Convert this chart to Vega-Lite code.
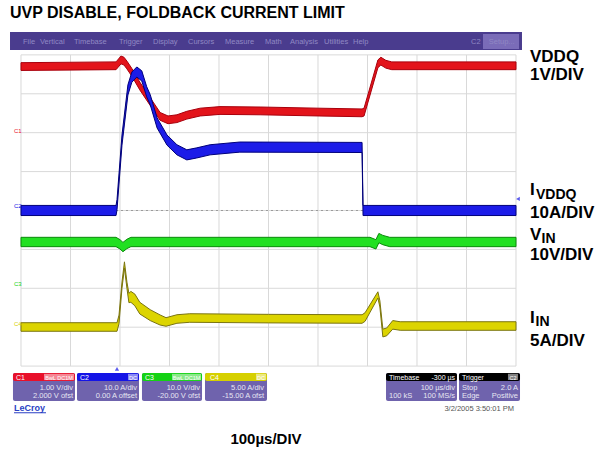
{
  "$schema": "https://vega.github.io/schema/vega-lite/v6.json",
  "width": 615,
  "height": 451,
  "padding": 0,
  "autosize": {"type": "fit", "contains": "padding"},
  "background": "white",
  "config": {"view": {"stroke": null}, "text": {"font": "Liberation Sans"}},
  "encoding": {
    "x": {"field": "t", "type": "quantitative", "scale": {"domain": [-42.42, 1200], "nice": false, "zero": false}, "axis": null},
    "y": {"field": "d", "type": "quantitative", "scale": {"domain": [-6.183, 5.411], "nice": false, "zero": false}, "axis": null}
  },
  "layer": [
    {
      "data": {"values": [{"t": -22.2, "t2": 1012.1, "d": 4.589, "d2": 4.126}]},
      "mark": {"type": "rect", "color": "#4a3c8e"},
      "encoding": {"x2": {"field": "t2"}, "y2": {"field": "d2"}}
    },
    {
      "data": {"values": [{"t": 933.3, "t2": 1006.1, "d": 4.537, "d2": 4.152}]},
      "mark": {"type": "rect", "color": "#7a6cb8"},
      "encoding": {"x2": {"field": "t2"}, "y2": {"field": "d2"}}
    },
    {
      "data": {"values": [
        {"t": 4.0, "d": 4.28, "label": "File"},
        {"t": 38.4, "d": 4.28, "label": "Vertical"},
        {"t": 107.1, "d": 4.28, "label": "Timebase"},
        {"t": 198.0, "d": 4.28, "label": "Trigger"},
        {"t": 266.7, "d": 4.28, "label": "Display"},
        {"t": 337.4, "d": 4.28, "label": "Cursors"},
        {"t": 412.1, "d": 4.28, "label": "Measure"},
        {"t": 492.9, "d": 4.28, "label": "Math"},
        {"t": 543.4, "d": 4.28, "label": "Analysis"},
        {"t": 612.1, "d": 4.28, "label": "Utilities"},
        {"t": 670.7, "d": 4.28, "label": "Help"},
        {"t": 909.1, "d": 4.28, "label": "C2"},
        {"t": 945.0, "d": 4.28, "label": "Setup..."}
      ]},
      "mark": {"type": "text", "align": "left", "baseline": "alphabetic", "fontSize": 7.5, "color": "#9088c4"},
      "encoding": {"text": {"field": "label"}}
    },
    {
      "data": {"values": [
        {"t": 0, "d": -4, "d2": 4}, {"t": 100, "d": -4, "d2": 4}, {"t": 200, "d": -4, "d2": 4},
        {"t": 300, "d": -4, "d2": 4}, {"t": 400, "d": -4, "d2": 4}, {"t": 500, "d": -4, "d2": 4},
        {"t": 600, "d": -4, "d2": 4}, {"t": 700, "d": -4, "d2": 4}, {"t": 800, "d": -4, "d2": 4},
        {"t": 900, "d": -4, "d2": 4}, {"t": 1000, "d": -4, "d2": 4}
      ]},
      "mark": {"type": "rule", "color": "#d9d9d9", "strokeWidth": 1},
      "encoding": {"y2": {"field": "d2"}}
    },
    {
      "data": {"values": [
        {"t": 0, "t2": 1000, "d": -4}, {"t": 0, "t2": 1000, "d": -3}, {"t": 0, "t2": 1000, "d": -2},
        {"t": 0, "t2": 1000, "d": -1}, {"t": 0, "t2": 1000, "d": 0}, {"t": 0, "t2": 1000, "d": 1},
        {"t": 0, "t2": 1000, "d": 2}, {"t": 0, "t2": 1000, "d": 3}, {"t": 0, "t2": 1000, "d": 4}
      ]},
      "mark": {"type": "rule", "color": "#d9d9d9", "strokeWidth": 1},
      "encoding": {"x2": {"field": "t2"}}
    },
    {
      "data": {"values": [{"t": 0, "t2": 1000, "d": 0}]},
      "mark": {"type": "rule", "color": "#9a9a9a", "strokeWidth": 1, "strokeDash": [2, 3]},
      "encoding": {"x2": {"field": "t2"}}
    },
    {
      "data": {"values": [
        {"t": 0, "d": 3.80, "d2": 3.60},
        {"t": 192, "d": 3.82, "d2": 3.62},
        {"t": 202, "d": 3.97, "d2": 3.77},
        {"t": 208, "d": 3.94, "d2": 3.74},
        {"t": 214, "d": 3.84, "d2": 3.64},
        {"t": 224, "d": 3.65, "d2": 3.45},
        {"t": 240, "d": 3.30, "d2": 3.10},
        {"t": 261, "d": 2.90, "d2": 2.70},
        {"t": 281, "d": 2.52, "d2": 2.32},
        {"t": 297, "d": 2.43, "d2": 2.23},
        {"t": 315, "d": 2.46, "d2": 2.26},
        {"t": 335, "d": 2.55, "d2": 2.35},
        {"t": 362, "d": 2.63, "d2": 2.43},
        {"t": 402, "d": 2.67, "d2": 2.47},
        {"t": 483, "d": 2.66, "d2": 2.46},
        {"t": 600, "d": 2.63, "d2": 2.43},
        {"t": 689, "d": 2.61, "d2": 2.41},
        {"t": 693, "d": 2.63, "d2": 2.43},
        {"t": 721, "d": 3.87, "d2": 3.67},
        {"t": 727, "d": 3.94, "d2": 3.74},
        {"t": 737, "d": 3.86, "d2": 3.66},
        {"t": 749, "d": 3.82, "d2": 3.62},
        {"t": 1000, "d": 3.82, "d2": 3.62}
      ]},
      "mark": {"type": "area", "color": "#e3141b", "stroke": "#a8000c", "strokeWidth": 1, "interpolate": "linear"},
      "encoding": {"y2": {"field": "d2"}}
    },
    {
      "data": {"values": [
        {"t": 0, "d": 0.13, "d2": -0.13},
        {"t": 192, "d": 0.13, "d2": -0.13},
        {"t": 194, "d": 0.28, "d2": 0.02},
        {"t": 204, "d": 1.94, "d2": 1.68},
        {"t": 216, "d": 3.23, "d2": 2.97},
        {"t": 224, "d": 3.56, "d2": 3.30},
        {"t": 234, "d": 3.69, "d2": 3.43},
        {"t": 244, "d": 3.59, "d2": 3.33},
        {"t": 254, "d": 3.18, "d2": 2.92},
        {"t": 261, "d": 2.98, "d2": 2.72},
        {"t": 275, "d": 2.38, "d2": 2.12},
        {"t": 295, "d": 1.94, "d2": 1.68},
        {"t": 315, "d": 1.69, "d2": 1.43},
        {"t": 335, "d": 1.56, "d2": 1.30},
        {"t": 355, "d": 1.61, "d2": 1.35},
        {"t": 382, "d": 1.69, "d2": 1.43},
        {"t": 442, "d": 1.76, "d2": 1.50},
        {"t": 689, "d": 1.75, "d2": 1.49},
        {"t": 691, "d": 0.13, "d2": -0.13},
        {"t": 1000, "d": 0.13, "d2": -0.13}
      ]},
      "mark": {"type": "area", "color": "#1c1ce8", "stroke": "#00007a", "strokeWidth": 1, "interpolate": "linear"},
      "encoding": {"y2": {"field": "d2"}}
    },
    {
      "data": {"values": [
        {"t": 0, "d": -0.69, "d2": -0.93},
        {"t": 192, "d": -0.69, "d2": -0.93},
        {"t": 200, "d": -0.75, "d2": -0.99},
        {"t": 206, "d": -0.82, "d2": -1.06},
        {"t": 214, "d": -0.74, "d2": -0.98},
        {"t": 222, "d": -0.69, "d2": -0.93},
        {"t": 705, "d": -0.69, "d2": -0.93},
        {"t": 717, "d": -0.75, "d2": -0.99},
        {"t": 723, "d": -0.59, "d2": -0.83},
        {"t": 731, "d": -0.64, "d2": -0.88},
        {"t": 745, "d": -0.69, "d2": -0.93},
        {"t": 1000, "d": -0.69, "d2": -0.93}
      ]},
      "mark": {"type": "area", "color": "#22e022", "stroke": "#0a8a0a", "strokeWidth": 1, "interpolate": "linear"},
      "encoding": {"y2": {"field": "d2"}}
    },
    {
      "data": {"values": [
        {"t": 0, "d": -2.885, "d2": -3.105},
        {"t": 194, "d": -2.885, "d2": -3.105},
        {"t": 198, "d": -2.69, "d2": -2.91},
        {"t": 204, "d": -1.84, "d2": -2.00},
        {"t": 209, "d": -1.32, "d2": -1.48},
        {"t": 214, "d": -1.84, "d2": -2.00},
        {"t": 218, "d": -2.13, "d2": -2.37},
        {"t": 222, "d": -2.08, "d2": -2.36},
        {"t": 230, "d": -2.15, "d2": -2.45},
        {"t": 240, "d": -2.36, "d2": -2.66},
        {"t": 261, "d": -2.55, "d2": -2.83},
        {"t": 281, "d": -2.685, "d2": -2.945},
        {"t": 293, "d": -2.756, "d2": -2.976},
        {"t": 315, "d": -2.68, "d2": -2.90},
        {"t": 341, "d": -2.654, "d2": -2.874},
        {"t": 500, "d": -2.67, "d2": -2.89},
        {"t": 689, "d": -2.68, "d2": -2.90},
        {"t": 695, "d": -2.63, "d2": -2.85},
        {"t": 721, "d": -2.09, "d2": -2.25},
        {"t": 725, "d": -2.32, "d2": -2.48},
        {"t": 731, "d": -3.05, "d2": -3.25},
        {"t": 739, "d": -3.02, "d2": -3.22},
        {"t": 751, "d": -2.83, "d2": -3.05},
        {"t": 766, "d": -2.86, "d2": -3.08},
        {"t": 1000, "d": -2.86, "d2": -3.08}
      ]},
      "mark": {"type": "area", "color": "#dcd400", "stroke": "#7a7410", "strokeWidth": 1, "interpolate": "linear"},
      "encoding": {"y2": {"field": "d2"}}
    },
    {
      "data": {"values": [
        {"t": -14.1, "d": 1.99, "ch": "C1", "label": "C1"},
        {"t": -14.1, "d": 0.064, "ch": "C2", "label": "C2"},
        {"t": -14.1, "d": -1.94, "ch": "C3", "label": "C3"},
        {"t": -14.1, "d": -2.97, "ch": "C4", "label": "C4"}
      ]},
      "mark": {"type": "text", "align": "left", "baseline": "alphabetic", "fontSize": 6},
      "encoding": {
        "text": {"field": "label"},
        "color": {"field": "ch", "type": "nominal", "scale": {"domain": ["C1", "C2", "C3", "C4", "TB", "TR"], "range": ["#e8102a", "#1414e6", "#14d214", "#d6d000", "#000000", "#000000"]}, "legend": null}
      }
    },
    {
      "data": {"values": [{"t": 193.9, "d": -4.07}]},
      "mark": {"type": "point", "shape": "triangle-up", "filled": true, "size": 18, "color": "#1414e6"}
    },
    {
      "data": {"values": [{"t": 1004, "d": 0.296}]},
      "mark": {"type": "point", "shape": "triangle-left", "filled": true, "size": 18, "color": "#1414e6"}
    },
    {
      "data": {"values": [
        {"t": -16.2, "t2": 109.1, "d": -4.177, "d2": -4.897},
        {"t": 113.1, "t2": 238.4, "d": -4.177, "d2": -4.897},
        {"t": 244.4, "t2": 365.7, "d": -4.177, "d2": -4.897},
        {"t": 371.7, "t2": 497.0, "d": -4.177, "d2": -4.897},
        {"t": 737.4, "t2": 880.8, "d": -4.177, "d2": -4.897},
        {"t": 884.8, "t2": 1008.1, "d": -4.177, "d2": -4.897}
      ]},
      "mark": {"type": "rect", "color": "#6f63ad", "cornerRadius": 2},
      "encoding": {"x2": {"field": "t2"}, "y2": {"field": "d2"}}
    },
    {
      "data": {"values": [
        {"t": -16.2, "t2": 109.1, "d": -4.177, "d2": -4.383, "ch": "C1"},
        {"t": 113.1, "t2": 238.4, "d": -4.177, "d2": -4.383, "ch": "C2"},
        {"t": 244.4, "t2": 365.7, "d": -4.177, "d2": -4.383, "ch": "C3"},
        {"t": 371.7, "t2": 497.0, "d": -4.177, "d2": -4.383, "ch": "C4"},
        {"t": 737.4, "t2": 880.8, "d": -4.177, "d2": -4.383, "ch": "TB"},
        {"t": 884.8, "t2": 1008.1, "d": -4.177, "d2": -4.383, "ch": "TR"}
      ]},
      "mark": {"type": "rect", "cornerRadius": 2},
      "encoding": {
        "x2": {"field": "t2"}, "y2": {"field": "d2"},
        "color": {"field": "ch", "type": "nominal", "scale": {"domain": ["C1", "C2", "C3", "C4", "TB", "TR"], "range": ["#e8102a", "#1414e6", "#14d214", "#d6d000", "#000000", "#000000"]}, "legend": null}
      }
    },
    {
      "data": {"values": [
        {"t": 46.5, "t2": 107.1, "d": -4.20, "d2": -4.36},
        {"t": 216.2, "t2": 236.4, "d": -4.20, "d2": -4.36},
        {"t": 305.1, "t2": 363.7, "d": -4.20, "d2": -4.36},
        {"t": 474.7, "t2": 494.9, "d": -4.20, "d2": -4.36},
        {"t": 983.8, "t2": 1004.0, "d": -4.20, "d2": -4.36}
      ]},
      "mark": {"type": "rect", "color": "#ffffff", "opacity": 0.5},
      "encoding": {"x2": {"field": "t2"}, "y2": {"field": "d2"}}
    },
    {
      "data": {"values": [
        {"t": -10.1, "d": -4.357, "label": "C1"},
        {"t": 119.2, "d": -4.357, "label": "C2"},
        {"t": 250.5, "d": -4.357, "label": "C3"},
        {"t": 381.8, "d": -4.357, "label": "C4"},
        {"t": 743.4, "d": -4.357, "label": "Timebase"},
        {"t": 890.9, "d": -4.357, "label": "Trigger"}
      ]},
      "mark": {"type": "text", "align": "left", "baseline": "alphabetic", "fontSize": 7, "color": "#ffffff"},
      "encoding": {"text": {"field": "label"}}
    },
    {
      "data": {"values": [
        {"t": 76.8, "d": -4.345, "label": "BwL DC1M"},
        {"t": 226.3, "d": -4.345, "label": "DC"},
        {"t": 334.4, "d": -4.345, "label": "BwL DC1M"},
        {"t": 484.8, "d": -4.345, "label": "DC"},
        {"t": 993.9, "d": -4.345, "label": "C2"}
      ]},
      "mark": {"type": "text", "align": "center", "baseline": "alphabetic", "fontSize": 5.5, "color": "#ffffff"},
      "encoding": {"text": {"field": "label"}}
    },
    {
      "data": {"values": [{"t": 876.8, "d": -4.357, "label": "-300 µs"}]},
      "mark": {"type": "text", "align": "right", "baseline": "alphabetic", "fontSize": 7, "color": "#ffffff"},
      "encoding": {"text": {"field": "label"}}
    },
    {
      "data": {"values": [
        {"t": 105.1, "d": -4.614, "label": "1.00 V/div"},
        {"t": 105.1, "d": -4.820, "label": "2.000 V ofst"},
        {"t": 234.3, "d": -4.614, "label": "10.0 A/div"},
        {"t": 234.3, "d": -4.820, "label": "0.00 A offset"},
        {"t": 361.6, "d": -4.614, "label": "10.0 V/div"},
        {"t": 361.6, "d": -4.820, "label": "-20.00 V ofst"},
        {"t": 490.9, "d": -4.614, "label": "5.00 A/div"},
        {"t": 490.9, "d": -4.820, "label": "-15.00 A ofst"},
        {"t": 876.8, "d": -4.614, "label": "100 µs/div"},
        {"t": 876.8, "d": -4.820, "label": "100 MS/s"},
        {"t": 1004.0, "d": -4.614, "label": "2.0 A"},
        {"t": 1004.0, "d": -4.820, "label": "Positive"}
      ]},
      "mark": {"type": "text", "align": "right", "baseline": "alphabetic", "fontSize": 7.5, "color": "#e6e6f2"},
      "encoding": {"text": {"field": "label"}}
    },
    {
      "data": {"values": [
        {"t": 743.4, "d": -4.820, "label": "100 kS"},
        {"t": 890.9, "d": -4.614, "label": "Stop"},
        {"t": 890.9, "d": -4.820, "label": "Edge"}
      ]},
      "mark": {"type": "text", "align": "left", "baseline": "alphabetic", "fontSize": 7.5, "color": "#e6e6f2"},
      "encoding": {"text": {"field": "label"}}
    },
    {
      "data": {"values": [{"t": -14.1, "d": -5.154, "label": "LeCroy"}]},
      "mark": {"type": "text", "align": "left", "baseline": "alphabetic", "fontSize": 9, "fontWeight": "bold", "color": "#2a3fc4"},
      "encoding": {"text": {"field": "label"}}
    },
    {
      "data": {"values": [{"t": -14.1, "t2": 50.5, "d": -5.2}]},
      "mark": {"type": "rule", "color": "#2a3fc4", "strokeWidth": 1},
      "encoding": {"x2": {"field": "t2"}}
    },
    {
      "data": {"values": [{"t": 996, "d": -5.154, "label": "3/2/2005 3:50:01 PM"}]},
      "mark": {"type": "text", "align": "right", "baseline": "alphabetic", "fontSize": 7.5, "color": "#555555"},
      "encoding": {"text": {"field": "label"}}
    },
    {
      "data": {"values": [{"t": -22.2, "d": 4.949, "label": "UVP DISABLE, FOLDBACK CURRENT LIMIT"}]},
      "mark": {"type": "text", "align": "left", "baseline": "alphabetic", "fontSize": 16, "fontWeight": "bold", "color": "#000000"},
      "encoding": {"text": {"field": "label"}}
    },
    {
      "data": {"values": [
        {"t": 1028.3, "d": 3.817, "label": "VDDQ"},
        {"t": 1028.3, "d": 3.355, "label": "1V/DIV"},
        {"t": 1028.3, "d": 0.398, "label": "I"},
        {"t": 1028.3, "d": -0.193, "label": "10A/DIV"},
        {"t": 1028.3, "d": -0.758, "label": "V"},
        {"t": 1028.3, "d": -1.272, "label": "10V/DIV"},
        {"t": 1028.3, "d": -2.892, "label": "I"},
        {"t": 1028.3, "d": -3.483, "label": "5A/DIV"}
      ]},
      "mark": {"type": "text", "align": "left", "baseline": "alphabetic", "fontSize": 17, "fontWeight": "bold", "color": "#000000"},
      "encoding": {"text": {"field": "label"}}
    },
    {
      "data": {"values": [
        {"t": 1040.4, "d": 0.296, "label": "VDDQ"},
        {"t": 1051.5, "d": -0.835, "label": "IN"},
        {"t": 1039.4, "d": -2.969, "label": "IN"}
      ]},
      "mark": {"type": "text", "align": "left", "baseline": "alphabetic", "fontSize": 14, "fontWeight": "bold", "color": "#000000"},
      "encoding": {"text": {"field": "label"}}
    },
    {
      "data": {"values": [{"t": 494.9, "d": -6.003, "label": "100µs/DIV"}]},
      "mark": {"type": "text", "align": "center", "baseline": "alphabetic", "fontSize": 15, "fontWeight": "bold", "color": "#000000"},
      "encoding": {"text": {"field": "label"}}
    }
  ]
}
